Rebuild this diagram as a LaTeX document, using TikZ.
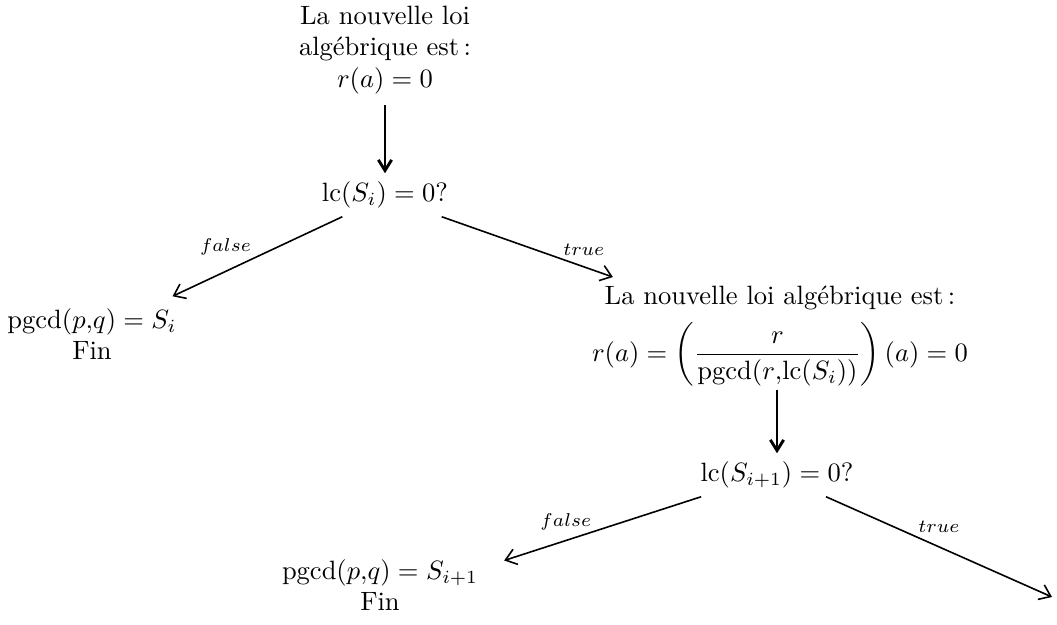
\documentclass[tikz,border=0pt]{standalone}
\usepackage{amsmath}
\usetikzlibrary{arrows.meta}

\begin{document}
\begin{tikzpicture}[
  x=0.377pt,y=-0.377pt,
  txt/.style={align=center,inner sep=3pt},
  down/.style={-{Straight Barb[length=4pt,width=5pt]},line width=1.1pt,shorten <=1pt,shorten >=0pt},
  arr/.style={-{Straight Barb[length=4pt,width=6pt]},semithick},
  lbl/.style={font=\scriptsize,inner sep=1pt}
]
\useasboundingbox (0,0) rectangle (1057,625);
\node[txt] (loi1) at (385,50) {La nouvelle loi\\alg\'ebrique est\,:\\$r(a)=0$};
\node[txt] (test1) at (385,195) {$\mathrm{lc}(S_i)=0?$};
\node[txt] (fin1) at (92,334) {$\mathrm{pgcd}(p{,}q)=S_i$\\Fin};
\node[txt] (loi2) at (780,336) {La nouvelle loi alg\'ebrique est\,:\\[4pt]$\displaystyle r(a)=\left(\frac{r}{\mathrm{pgcd}(r{,}\mathrm{lc}(S_i))}\right)(a)=0$};
\node[txt] (test2) at (777,475) {$\mathrm{lc}(S_{i+1})=0?$};
\node[txt] (fin2) at (380,585) {$\mathrm{pgcd}(p{,}q)=S_{i+1}$\\Fin};
\coordinate (suite) at (1052,597);
\draw[down] (loi1) -- (test1);
\draw[arr,shorten >=3pt] (test1.207) -- node[lbl,pos=0.66,above=5pt] {$false$} (fin1);
\draw[arr] (test1.339) -- node[lbl,pos=0.83,above=3pt] {$true$} (loi2);
\draw[down,shorten <=-2pt] (test2 |- loi2.south) -- (test2);
\draw[arr,shorten >=7pt] (test2.196) -- node[lbl,pos=0.63,above=2.5pt] {$false$} (fin2.10);
\draw[arr] (test2) -- node[lbl,pos=0.5,above=4pt] {$true$} (suite);
\end{tikzpicture}
\end{document}
